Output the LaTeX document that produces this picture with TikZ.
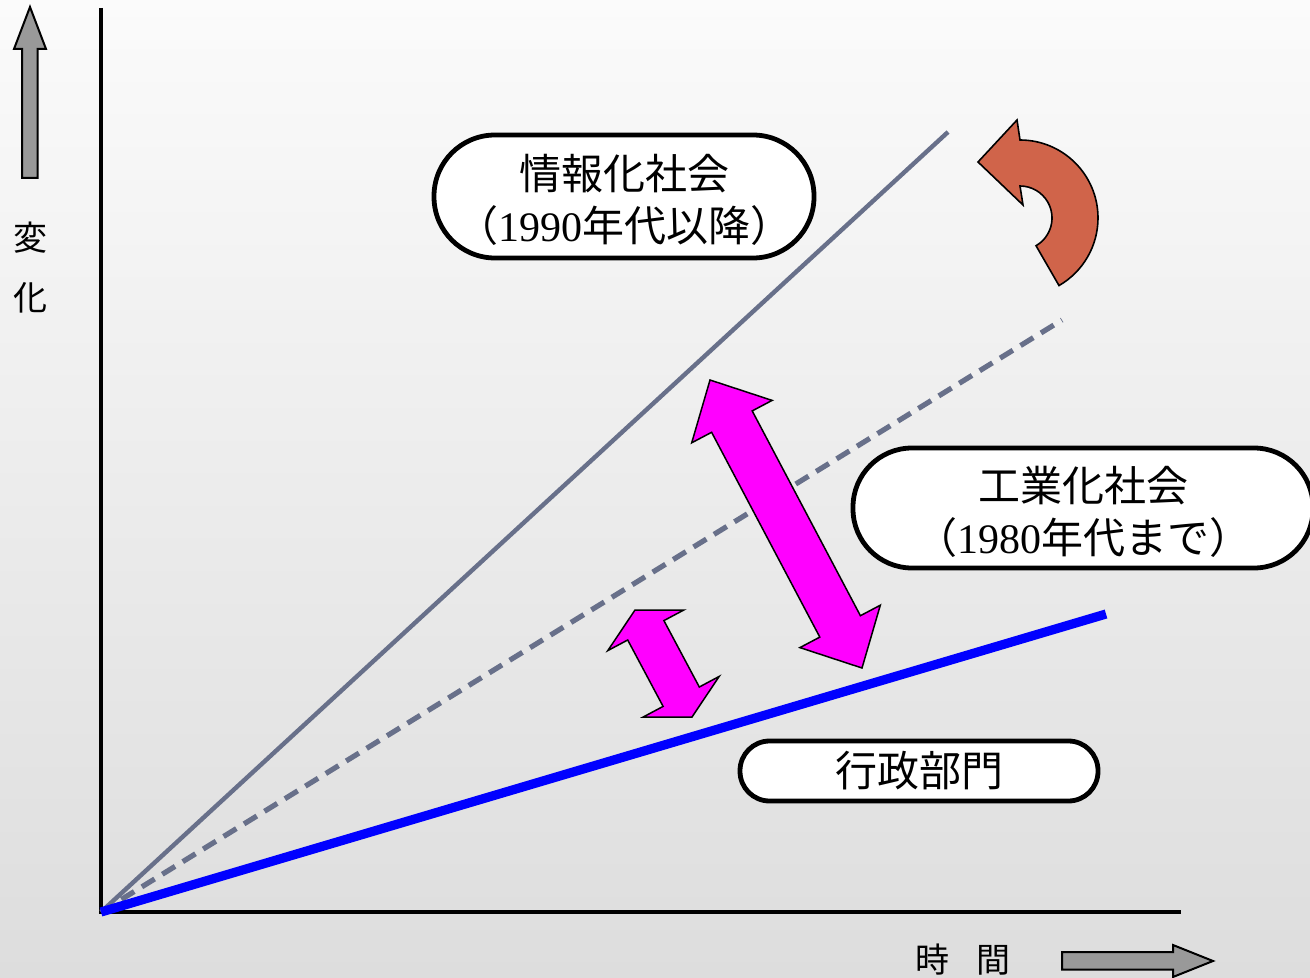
\documentclass[tikz,border=0pt]{standalone}
\usepackage{fontspec}
\setmainfont{Liberation Serif}
\newfontfamily\jp{Noto Sans CJK JP}
\newfontfamily\lserif{Liberation Serif}
\usetikzlibrary{calc}
\newcommand\lpar{\makebox[0.45em][r]{（}}
\newcommand\rpar{\makebox[0.45em][l]{）}}
\definecolor{bgtop}{RGB}{251,251,251}
\definecolor{bgbot}{RGB}{221,221,221}
\definecolor{slate}{RGB}{104,112,138}
\definecolor{magentaA}{RGB}{255,0,255}
\definecolor{rust}{RGB}{208,100,74}
\definecolor{arrgray}{RGB}{153,153,153}
\tikzset{
  axisline/.style={black, line width=1.7pt},
  infoline/.style={slate, line width=2.2pt},
  indline/.style={slate, line width=2.6pt, dash pattern=on 7.5pt off 4.5pt},
  admline/.style={blue, line width=4.6pt},
  labelbox/.style={draw=black, line width=2.4pt, fill=white, align=center, inner sep=0pt,
     font=\jp\fontsize{21pt}{26pt}\selectfont},
  magarrow/.style={draw=black, line width=0.75pt, fill=magentaA, line join=miter},
  rustarrow/.style={draw=black, line width=0.8pt, fill=rust},
  grayarrow/.style={draw=black, line width=1pt, fill=arrgray},
  axlabel/.style={font=\jp\fontsize{17pt}{20pt}\selectfont, inner sep=0pt}
}
\begin{document}
\begin{tikzpicture}[x=0.5pt, y=-0.5pt]
\useasboundingbox (0,0) rectangle (1310,978);
\clip (0,0) rectangle (1310,978);
\shade[top color=bgtop, bottom color=bgbot] (0,0) rectangle (1310,978);

% coordinates
\coordinate (O) at (101,912);
\coordinate (yend) at (101,8);
\coordinate (xend) at (1181,912);
\coordinate (infoend) at (948,132);
\coordinate (indend) at (1062,320);
\coordinate (admend) at (1106,614);

% axes
\draw[axisline] (yend) -- (O) -- (xend);

% lines
\draw[infoline] (O) -- (infoend);
\draw[indline] (O) -- (indend);
\draw[admline] (O) -- (admend);

% boxes
\node[labelbox, minimum width=190pt, minimum height=61.5pt, rounded corners=30.5pt] (info) at (624,196.5)
  {\rule{0pt}{21.5pt}情報化社会\\\lpar{\lserif 1990}年代以降\rpar};
\node[labelbox, minimum width=230pt, minimum height=60pt, rounded corners=29.5pt] (ind) at (1083,508)
  {\rule{0pt}{21.5pt}工業化社会\\\lpar{\lserif 1980}年代まで\rpar};
\node[labelbox, minimum width=179pt, minimum height=30pt, rounded corners=14.8pt] (adm) at (919,771)
  {行政部門};

% large magenta double arrow
\draw[magarrow] (710,380) -- (772.1,400.4) -- (752.2,410.9) -- (860.4,615.7) -- (880.3,605.2)
  -- (862,668) -- (799.9,647.6) -- (819.8,637.1) -- (711.6,432.3) -- (691.7,442.8) -- cycle;

% small magenta double arrow
\draw[magarrow] (635,610) -- (683.8,610.0) -- (663.9,620.6) -- (699.3,687) -- (719.2,676.4)
  -- (692,717) -- (643.2,717.0) -- (663.1,706.4) -- (627.7,640) -- (607.8,650.6) -- cycle;

% curved arrow
\draw[rustarrow] (1020,140) arc[start angle=-90, end angle=60, radius=78]
  -- ($(1020,218)+(60:32)$) arc[start angle=60, end angle=-90, radius=32]
  -- (1023,205) -- (978,162) -- (1017,120) -- cycle;

% gray block arrows
\draw[grayarrow] (30,7) -- (46,49) -- (37.5,49) -- (37.5,178) -- (22,178) -- (22,49) -- (14,49) -- cycle;
\draw[grayarrow] (1062,952) -- (1173,952) -- (1173,945) -- (1213,961) -- (1173,977) -- (1173,969.5) -- (1062,969.5) -- cycle;

% axis labels
\node[axlabel] (hen) at (30,238) {変};
\node[axlabel] (ka) at (30,298) {化};
\node[axlabel] (jikan) at (963,960) {時\hspace{0.8em}間};
\end{tikzpicture}
\end{document}
